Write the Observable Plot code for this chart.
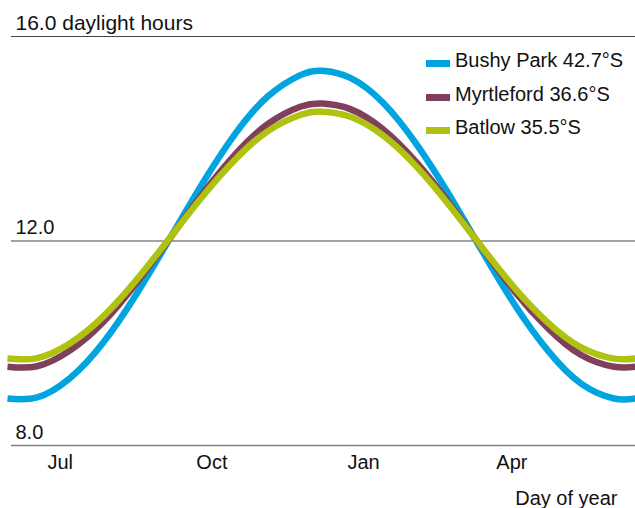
<!DOCTYPE html>
<html>
<head>
<meta charset="utf-8">
<script src="https://cdn.jsdelivr.net/npm/d3@7"></script>
<script src="https://cdn.jsdelivr.net/npm/@observablehq/plot@0.6"></script>
<style>
  html, body { margin: 0; padding: 0; background: #fff; }
  #wrap { position: relative; width: 635px; height: 508px; font-family: "Liberation Sans", Arial, sans-serif; color: #111; }
  #legend { position: absolute; left: 426px; top: 44px; font-size: 20px; line-height: 33.5px; white-space: nowrap; }
  #legend .sw { display: inline-block; width: 24px; height: 7px; margin-right: 5px; vertical-align: baseline; }
</style>
</head>
<body>
<div id="wrap"><div id="legend"></div></div>
<script>
// Days counted from 1 July
const days = [-18, 0, 20, 40, 60, 80, 100, 120, 140, 160, 173, 190, 210, 230, 250, 270, 290, 310, 330, 350, 363];
const bushyPark  = [8.92, 8.94, 9.32, 10.01, 10.95, 12.02, 13.11, 14.09, 14.83, 15.25, 15.33, 15.19, 14.70, 13.90, 12.90, 11.80, 10.74, 9.85, 9.21, 8.92, 8.92];
const myrtleford = [9.54, 9.55, 9.86, 10.41, 11.17, 12.03, 12.91, 13.69, 14.29, 14.63, 14.69, 14.58, 14.18, 13.54, 12.74, 11.86, 11.00, 10.29, 9.77, 9.54, 9.54];
const batlow     = [9.70, 9.71, 10.00, 10.52, 11.23, 12.04, 12.86, 13.59, 14.15, 14.47, 14.53, 14.43, 14.06, 13.46, 12.70, 11.87, 11.07, 10.40, 9.92, 9.70, 9.70];

const seriesNames = ["Bushy Park 42.7°S", "Myrtleford 36.6°S", "Batlow 35.5°S"];
const seriesColors = ["#00a5df", "#803f5b", "#afc20f"];

const xTickDays = [14, 106, 198, 288];
const xTickLabels = ["Jul", "Oct", "Jan", "Apr"];
const yTicks = [8, 12, 16];
const yTickLabels = ["8.0", "12.0", "16.0 daylight hours"];
const xTitle = "Day of year";

const seriesValues = [bushyPark, myrtleford, batlow];
const data = [];
seriesValues.forEach((vals, s) => vals.forEach((v, i) => data.push({day: days[i], hours: v, series: seriesNames[s]})));

const xDomain = [days[0], days[days.length - 1]];
const labelOf = new Map(xTickDays.map((d, i) => [d, xTickLabels[i]]));

const chart = Plot.plot({
  width: 635,
  height: 508,
  marginTop: 36,
  marginBottom: 63,
  marginLeft: 7,
  marginRight: 0,
  x: {domain: xDomain, axis: null},
  y: {domain: [8, 16], axis: null},
  color: {domain: seriesNames, range: seriesColors},
  style: {fontFamily: '"Liberation Sans", Arial, sans-serif', fontSize: "20px", color: "#111", background: "white"},
  marks: [
    Plot.ruleY(yTicks.filter(v => v !== 8), {x1: xDomain[0] + 2.4, x2: xDomain[1], stroke: "#444", strokeWidth: 1}),
    Plot.ruleY([8], {x1: xDomain[0] + 2.4, x2: xDomain[1], stroke: "#808080", strokeWidth: 1.4}),
    Plot.lineY(data, {x: "day", y: "hours", z: "series", stroke: "series", strokeWidth: 6.5, curve: "natural", strokeLinecap: "butt", strokeLinejoin: "round"}),
    Plot.text(yTicks.filter(v => v !== 16), {y: d => d, text: d => yTickLabels[yTicks.indexOf(d)], frameAnchor: "left", textAnchor: "start", lineAnchor: "bottom", dx: 8, dy: -7, fill: "#111", fontSize: 20}),
    Plot.text([16], {y: d => d, text: d => yTickLabels[yTicks.indexOf(d)], frameAnchor: "left", textAnchor: "start", lineAnchor: "bottom", dx: 8, dy: -7, fill: "#111", fontSize: 21}),
    Plot.text(xTickDays, {x: d => d, text: d => labelOf.get(d), frameAnchor: "bottom", textAnchor: "middle", lineAnchor: "bottom", dy: 23, fill: "#111"}),
    Plot.text([xTitle], {frameAnchor: "bottom-right", textAnchor: "end", lineAnchor: "bottom", dx: -18, dy: 59, fill: "#111"})
  ]
});

document.getElementById("wrap").prepend(chart);

const legend = document.getElementById("legend");
seriesNames.forEach((name, i) => {
  const row = document.createElement("div");
  const sw = document.createElement("span");
  sw.className = "sw";
  sw.style.background = seriesColors[i];
  row.appendChild(sw);
  row.appendChild(document.createTextNode(name));
  legend.appendChild(row);
});
</script>
</body>
</html>
